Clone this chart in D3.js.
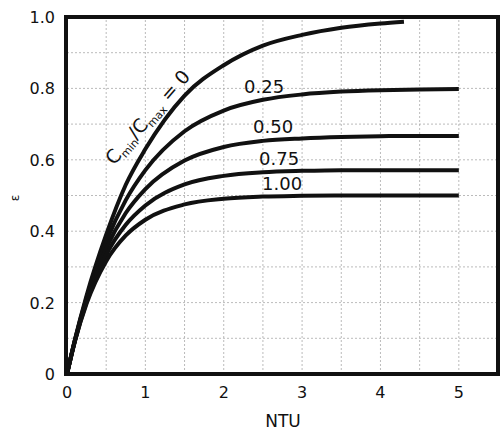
<!DOCTYPE html>
<html>
<head>
<meta charset="utf-8">
<script src="https://cdn.jsdelivr.net/npm/d3@7"></script>
<style>
  body { margin: 0; background: #fff; }
  text { font-family: "DejaVu Sans", sans-serif; fill: #111; }
</style>
</head>
<body>
<svg id="chart" width="501" height="432"></svg>
<script>
// values
const ntuAll = [0, 0.1, 0.25, 0.5, 0.75, 1, 1.5, 2, 2.5, 3, 3.5, 4, 4.5, 5];
const ntuZero = [0, 0.1, 0.25, 0.5, 0.75, 1, 1.5, 2, 2.5, 3, 3.5, 4, 4.3];

const effCr0   = [0, 0.095, 0.22, 0.39, 0.53, 0.63, 0.78, 0.865, 0.92, 0.95, 0.97, 0.982, 0.987];
const effCr025 = [0, 0.094, 0.214, 0.371, 0.487, 0.571, 0.68, 0.738, 0.768, 0.783, 0.791, 0.795, 0.797, 0.798];
const effCr050 = [0, 0.093, 0.209, 0.352, 0.451, 0.518, 0.598, 0.636, 0.653, 0.66, 0.664, 0.666, 0.667, 0.667];
const effCr075 = [0, 0.091, 0.203, 0.334, 0.418, 0.472, 0.531, 0.555, 0.565, 0.569, 0.571, 0.571, 0.571, 0.571];
const effCr100 = [0, 0.091, 0.197, 0.316, 0.388, 0.432, 0.475, 0.491, 0.497, 0.499, 0.5, 0.5, 0.5, 0.5];

const xTicks = [0, 1, 2, 3, 4, 5];
const yTicks = [0, 0.2, 0.4, 0.6, 0.8, 1.0];
const yTickLabels = ["0", "0.2", "0.4", "0.6", "0.8", "1.0"];
const curveLabels = ["0.25", "0.50", "0.75", "1.00"];

const svg = d3.select("#chart");

const x = d3.scaleLinear().domain([0, 5.5]).range([67, 498]);
const y = d3.scaleLinear().domain([0, 1]).range([374, 17]);

// dotted grid
svg.append("g").selectAll("line")
  .data(d3.range(1, 11).map(i => i * 0.5))
  .enter().append("line")
  .attr("x1", d => x(d)).attr("x2", d => x(d))
  .attr("y1", y(0)).attr("y2", y(1))
  .attr("stroke", "#aaa").attr("stroke-width", 0.8)
  .attr("stroke-dasharray", "2,2");

svg.append("g").selectAll("line")
  .data(d3.range(1, 10).map(i => i / 10))
  .enter().append("line")
  .attr("x1", x(0)).attr("x2", x(5.5))
  .attr("y1", d => y(d)).attr("y2", d => y(d))
  .attr("stroke", "#aaa").attr("stroke-width", 0.8)
  .attr("stroke-dasharray", "2,2");

// curves
const line = d3.line()
  .x(d => x(d[0]))
  .y(d => y(d[1]))
  .curve(d3.curveMonotoneX);

const series = [
  ntuZero.map((n, i) => [n, effCr0[i]]),
  ntuAll.map((n, i) => [n, effCr025[i]]),
  ntuAll.map((n, i) => [n, effCr050[i]]),
  ntuAll.map((n, i) => [n, effCr075[i]]),
  ntuAll.map((n, i) => [n, effCr100[i]])
];

svg.append("g").selectAll("path")
  .data(series)
  .enter().append("path")
  .attr("d", line)
  .attr("fill", "none")
  .attr("stroke", "#111")
  .attr("stroke-width", 4)
  .attr("stroke-linecap", "butt");

// frame
svg.append("rect")
  .attr("x", x(0) - 1).attr("y", y(1))
  .attr("width", x(5.5) - x(0) + 1).attr("height", y(0) - y(1))
  .attr("fill", "none").attr("stroke", "#111").attr("stroke-width", 4);

// tick labels
svg.append("g").selectAll("text")
  .data(xTicks)
  .enter().append("text")
  .attr("x", d => x(d)).attr("y", 398)
  .attr("text-anchor", "middle")
  .attr("font-size", 16)
  .text(d => d);

svg.append("g").selectAll("text")
  .data(yTicks)
  .enter().append("text")
  .attr("x", 55).attr("y", d => y(d) + 6)
  .attr("text-anchor", "end")
  .attr("font-size", 16)
  .text((d, i) => yTickLabels[i]);

// axis titles
svg.append("text")
  .attr("x", 283).attr("y", 427)
  .attr("text-anchor", "middle")
  .attr("font-size", 17)
  .text("NTU");

svg.append("text")
  .attr("transform", "translate(19,198) rotate(-90)")
  .attr("text-anchor", "middle")
  .attr("font-size", 12)
  .text("ε");

// curve labels
const labelPos = [[244, 93], [253, 133], [259, 165], [262, 190]];
svg.append("g").selectAll("text")
  .data(curveLabels)
  .enter().append("text")
  .attr("x", (d, i) => labelPos[i][0])
  .attr("y", (d, i) => labelPos[i][1])
  .attr("font-size", 18)
  .text(d => d);

const rot = svg.append("text")
  .attr("transform", "translate(114,166) rotate(-49)")
  .attr("font-size", 19);
rot.append("tspan").text("C");
rot.append("tspan").attr("font-size", 11).attr("dy", 4).text("min");
rot.append("tspan").attr("dy", -4).text("/C");
rot.append("tspan").attr("font-size", 11).attr("dy", 4).text("max");
rot.append("tspan").attr("dy", -4).text(" = 0");
</script>
</body>
</html>
